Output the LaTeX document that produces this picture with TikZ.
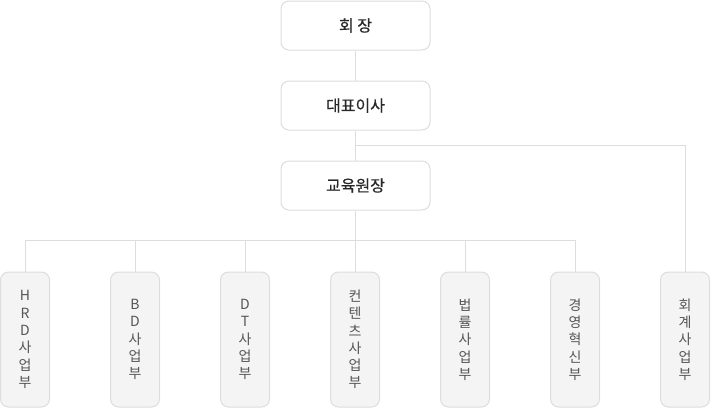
\documentclass[tikz,border=0pt]{standalone}
\usepackage{fontspec}
\newfontfamily\krfont{Noto Sans CJK KR}
\newfontfamily\krheadfont[FakeBold=0.6]{Noto Sans CJK KR}
\usetikzlibrary{positioning,calc}
\definecolor{LineClr}{RGB}{221,221,221}
\definecolor{FillClr}{RGB}{244,244,244}
\definecolor{HeadTextClr}{RGB}{40,40,40}
\definecolor{DeptTextClr}{RGB}{85,85,85}

\begin{document}
\begin{tikzpicture}[x=1pt,y=-1pt,
  headbox/.style={draw=LineClr,fill=white,line width=1pt,rounded corners=8pt,
    minimum width=149pt,minimum height=49pt,inner sep=0pt,
    text=HeadTextClr,font=\krheadfont\fontsize{16}{18}\selectfont},
  deptbox/.style={draw=LineClr,fill=FillClr,line width=1pt,rounded corners=8pt,
    minimum width=49pt,minimum height=135pt,inner sep=0pt,align=center,
    text=DeptTextClr,font=\krfont\fontsize{14}{17.3}\selectfont},
  link/.style={draw=LineClr,line width=1pt}]
\useasboundingbox (0,0) rectangle (711,408);

% head boxes
\node[headbox] (chair) at (355.5,25.5) {회 장};
\node[headbox] (ceo)   at (355.5,105.5) {대표이사};
\node[headbox] (edu)   at (355.5,185.5) {교육원장};

% department boxes
\node[deptbox] (hrd)      at (25,339.5)  {H\\R\\D\\사\\업\\부};
\node[deptbox] (bd)       at (135,339.5) {B\\D\\사\\업\\부};
\node[deptbox] (dt)       at (245,339.5) {D\\T\\사\\업\\부};
\node[deptbox] (contents) at (355,339.5) {컨\\텐\\츠\\사\\업\\부};
\node[deptbox] (law)      at (465,339.5) {법\\률\\사\\업\\부};
\node[deptbox] (innov)    at (575,339.5) {경\\영\\혁\\신\\부};
\node[deptbox] (acct)     at (685,339.5) {회\\계\\사\\업\\부};

% connectors
\coordinate (fork) at ($(ceo.south)+(0,15)$);
\coordinate (bus)  at ($(edu.south)+(0,30)$);
\draw[link] (chair) -- (ceo);
\draw[link] (ceo) -- (edu);
\draw[link] (fork) -| (acct.north);
\draw[link] (edu) -- (bus);
\draw[link] (hrd.north) |- (innov |- bus) -- (innov.north);
\foreach \d in {bd,dt,contents,law}
  \draw[link] (\d.north) -- (\d |- bus);

\end{tikzpicture}
\end{document}
